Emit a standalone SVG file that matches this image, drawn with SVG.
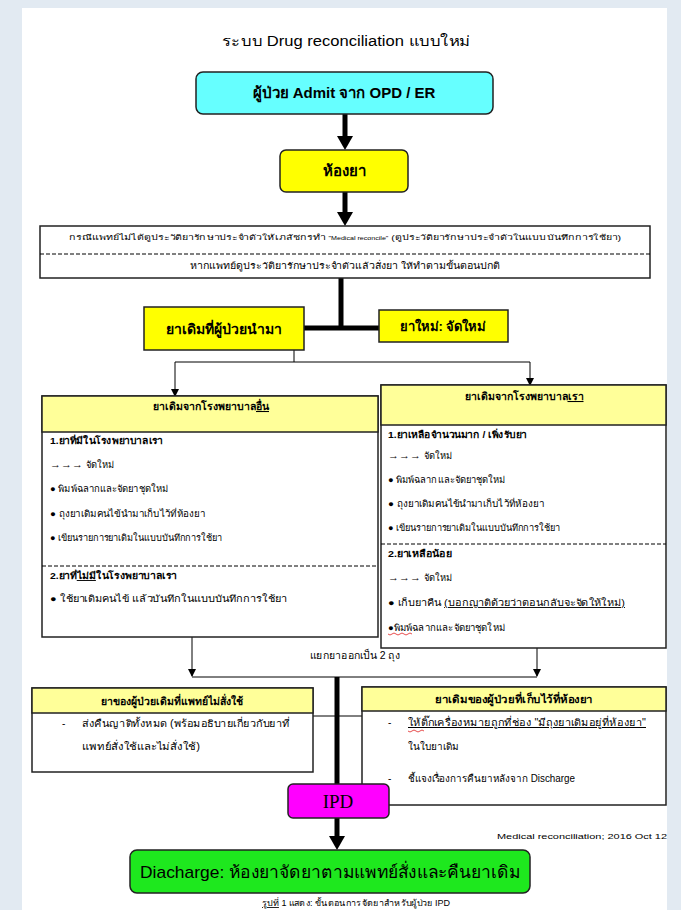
<svg xmlns="http://www.w3.org/2000/svg" width="681" height="910" viewBox="0 0 681 910">
<defs>
<style>
text{font-family:"Liberation Sans","DejaVu Sans",sans-serif;fill:#000}
.b{font-weight:bold}
.hd{font-size:15px;font-weight:bold;text-anchor:middle}
.sm{font-size:9.3px}
.md{font-size:10px}
.hh{font-size:10.5px;font-weight:bold;text-anchor:middle}
.ar{font-size:11px}
.c{text-anchor:middle}
.box{stroke:#222;stroke-width:1.5}
.thin{stroke:#000;stroke-width:1;fill:none}
.thick{stroke:#000;stroke-width:5;fill:none}
.dash{stroke:#000;stroke-width:1;stroke-dasharray:4 2;fill:none}
.u{text-decoration:underline}
.sq{stroke:#e02020;stroke-width:0.8;fill:none}
</style>
<marker id="ah" markerUnits="userSpaceOnUse" markerWidth="16" markerHeight="16" refX="4" refY="8" orient="auto"><path d="M0,0 L14,8 L0,16 z" fill="#000"/></marker>
<marker id="at" markerUnits="userSpaceOnUse" markerWidth="8" markerHeight="8" refX="7" refY="4" orient="auto"><path d="M0,0 L8,4 L0,8 z" fill="#000"/></marker>
</defs>
<rect x="0" y="0" width="681" height="910" fill="#e2eaf2"/>
<rect x="22" y="8" width="645" height="902" fill="#fff"/>

<text x="346" y="46" class="c" style="font-size:14px" textLength="248" lengthAdjust="spacingAndGlyphs">ระบบ Drug reconciliation แบบใหม่</text>

<g id="connectors">
<line x1="345" y1="114" x2="345" y2="140" class="thick" marker-end="url(#ah)"/>
<line x1="345" y1="192" x2="345" y2="216" class="thick" marker-end="url(#ah)"/>
<line x1="341" y1="278" x2="341" y2="330" class="thick"/>
<line x1="304" y1="328" x2="379" y2="328" class="thick"/>
<polyline points="294,350 294,362" class="thin"/>
<line x1="175" y1="362" x2="530" y2="362" class="thin"/>
<line x1="175" y1="362" x2="175" y2="396" class="thin" marker-end="url(#at)"/>
<line x1="530" y1="362" x2="530" y2="385" class="thin" marker-end="url(#at)"/>
<line x1="192" y1="637" x2="192" y2="676" class="thin" marker-end="url(#at)"/>
<line x1="537" y1="648" x2="537" y2="676" class="thin" marker-end="url(#at)"/>
<line x1="192" y1="677" x2="537" y2="677" class="thin"/>
<line x1="337" y1="677" x2="337" y2="784" class="thick"/>
<line x1="313" y1="716" x2="362" y2="716" class="thin"/>
<line x1="337" y1="818" x2="337" y2="840" class="thick" marker-end="url(#ah)"/>
<text x="355" y="659" class="c md" textLength="90" lengthAdjust="spacingAndGlyphs">แยกยาออกเป็น 2 ถุง</text>
</g>

<g id="admit">
<rect x="196" y="72" width="297" height="42" rx="7" fill="#66ffff" class="box"/>
<text x="344" y="98" class="hd">ผู้ป่วย Admit จาก OPD / ER</text>
</g>

<g id="pharmacy">
<rect x="280" y="150" width="128" height="42" rx="6" fill="#ffff00" class="box"/>
<text x="344" y="176" class="hd">ห้องยา</text>
</g>

<g id="reconcile">
<rect x="40" y="226" width="610" height="52" fill="#fff" class="box"/>
<line x1="40" y1="254" x2="650" y2="254" class="dash"/>
<text x="345" y="240" class="c" style="font-size:7.5px" textLength="552" lengthAdjust="spacingAndGlyphs">กรณีแพทย์ไม่ได้ดูประวัติยารักษาประจำตัวให้เภสัชกรทำ <tspan style="font-size:5px">"Medical reconcile"</tspan> (ดูประวัติยารักษาประจำตัวในแบบบันทึกการใช้ยา)</text>
<text x="345" y="269" class="c" style="font-size:9px" textLength="310" lengthAdjust="spacingAndGlyphs">หากแพทย์ดูประวัติยารักษาประจำตัวแล้วสั่งยา ให้ทำตามขั้นตอนปกติ</text>
</g>

<g id="old-drug">
<rect x="144" y="307" width="160" height="43" fill="#ffff00" class="box"/>
<text x="224" y="334" class="b c" style="font-size:14px">ยาเดิมที่ผู้ป่วยนำมา</text>
</g>

<g id="new-drug">
<rect x="379" y="310" width="129" height="32" fill="#ffff00" class="box"/>
<text x="443" y="331" class="b c" style="font-size:13px">ยาใหม่: จัดใหม่</text>
</g>

<g id="other-hospital">
<rect x="42" y="396" width="336" height="241" fill="#fff" class="box"/>
<rect x="42" y="396" width="336" height="36" fill="#ffff99" class="box"/>
<text x="211" y="410" class="hh">ยาเดิมจากโรงพยาบาล<tspan class="u">อื่น</tspan></text>
<text x="50" y="444" class="sm b" textLength="113" lengthAdjust="spacingAndGlyphs">1.ยาที่มีในโรงพยาบาลเรา</text>
<text x="50" y="468" class="sm"><tspan class="ar">→→→</tspan> จัดใหม่</text>
<text x="50" y="492" class="sm" textLength="118" lengthAdjust="spacingAndGlyphs">● พิมพ์ฉลากและจัดยาชุดใหม่</text>
<text x="50" y="517" class="sm" textLength="155" lengthAdjust="spacingAndGlyphs">● ถุงยาเดิมคนไข้นำมาเก็บไว้ที่ห้องยา</text>
<text x="50" y="541" class="sm" textLength="172" lengthAdjust="spacingAndGlyphs">● เขียนรายการยาเดิมในแบบบันทึกการใช้ยา</text>
<line x1="42" y1="566" x2="378" y2="566" class="dash"/>
<text x="50" y="579" class="sm b" textLength="127" lengthAdjust="spacingAndGlyphs">2.ยาที่<tspan class="u">ไม่มี</tspan>ในโรงพยาบาลเรา</text>
<text x="50" y="602" class="sm" textLength="237" lengthAdjust="spacingAndGlyphs">● ใช้ยาเดิมคนไข้ แล้วบันทึกในแบบบันทึกการใช้ยา</text>
</g>

<g id="our-hospital">
<rect x="381" y="385" width="285" height="263" fill="#fff" class="box"/>
<rect x="381" y="385" width="285" height="40" fill="#ffff99" class="box"/>
<text x="524" y="400" class="hh">ยาเดิมจากโรงพยาบาล<tspan class="u">เรา</tspan></text>
<text x="388" y="438" class="sm b" textLength="139" lengthAdjust="spacingAndGlyphs">1.ยาเหลือจำนวนมาก / เพิ่งรับยา</text>
<text x="388" y="459" class="sm"><tspan class="ar">→→→</tspan> จัดใหม่</text>
<text x="388" y="483" class="sm" textLength="117" lengthAdjust="spacingAndGlyphs">● พิมพ์ฉลากและจัดยาชุดใหม่</text>
<text x="388" y="507" class="sm" textLength="156" lengthAdjust="spacingAndGlyphs">● ถุงยาเดิมคนไข้นำมาเก็บไว้ที่ห้องยา</text>
<text x="388" y="531" class="sm" textLength="172" lengthAdjust="spacingAndGlyphs">● เขียนรายการยาเดิมในแบบบันทึกการใช้ยา</text>
<line x1="381" y1="544" x2="666" y2="544" class="dash"/>
<text x="388" y="557" class="sm b" textLength="64" lengthAdjust="spacingAndGlyphs">2.ยาเหลือน้อย</text>
<text x="388" y="581" class="sm"><tspan class="ar">→→→</tspan> จัดใหม่</text>
<text x="388" y="606" class="sm" textLength="237" lengthAdjust="spacingAndGlyphs">● เก็บยาคืน <tspan class="u">(บอกญาติด้วยว่าตอนกลับจะจัดให้ใหม่)</tspan></text>
<text x="388" y="631" class="sm" textLength="117" lengthAdjust="spacingAndGlyphs">●พิมพ์ฉลากและจัดยาชุดใหม่</text>
<path d="M388,634 q2,2 4,0 t4,0 t4,0 t4,0 t4,0 t4,0" class="sq"/>
</g>

<g id="not-ordered">
<rect x="32" y="688" width="281" height="84" fill="#fff" class="box"/>
<rect x="32" y="688" width="281" height="25" fill="#ffff99" class="box"/>
<text x="172" y="705" class="hh">ยาของผู้ป่วยเดิมที่แพทย์ไม่สั่งใช้</text>
<text x="62" y="727" class="md">-</text>
<text x="82" y="727" class="md" textLength="208" lengthAdjust="spacingAndGlyphs">ส่งคืนญาติทั้งหมด (พร้อมอธิบายเกี่ยวกับยาที่</text>
<text x="82" y="750" class="md" textLength="118" lengthAdjust="spacingAndGlyphs">แพทย์สั่งใช้และไม่สั่งใช้)</text>
</g>

<g id="kept">
<rect x="362" y="687" width="304" height="118" fill="#fff" class="box"/>
<rect x="362" y="687" width="304" height="24" fill="#ffff99" class="box"/>
<text x="514" y="703" class="hh" textLength="158" lengthAdjust="spacingAndGlyphs">ยาเดิมของผู้ป่วยที่เก็บไว้ที่ห้องยา</text>
<text x="388" y="726" class="md">-</text>
<text x="408" y="726" class="md u" textLength="238" lengthAdjust="spacingAndGlyphs">ให้ติ๊กเครื่องหมายถูกที่ช่อง "มีถุงยาเดิมอยู่ที่ห้องยา"</text>
<path d="M408,731 q2,2 4,0 t4,0 t4,0 t4,0" class="sq"/>
<text x="408" y="750" class="md">ในใบยาเดิม</text>
<text x="388" y="782" class="md">-</text>
<text x="408" y="782" class="md" textLength="167" lengthAdjust="spacingAndGlyphs">ชี้แจงเรื่องการคืนยาหลังจาก Discharge</text>
</g>

<g id="ipd">
<rect x="288" y="784" width="101" height="34" rx="5" fill="#ff00ff" class="box"/>
<text x="338" y="808" class="c" style="font-family:'Liberation Serif',serif;font-size:19px">IPD</text>
</g>

<text x="497" y="839" style="font-size:8px" textLength="170" lengthAdjust="spacingAndGlyphs">Medical reconciliation; 2016 Oct 12</text>

<g id="discharge">
<rect x="130" y="850" width="400" height="43" rx="7" fill="#1ee81e" class="box"/>
<text x="330" y="878" class="c" style="font-size:17px" textLength="380" lengthAdjust="spacingAndGlyphs">Diacharge: ห้องยาจัดยาตามแพทย์สั่งและคืนยาเดิม</text>
</g>

<text x="356" y="906" class="c" style="font-size:8.5px" textLength="188" lengthAdjust="spacingAndGlyphs"><tspan class="u">รูปที่</tspan> 1 แสดง: ขั้นตอนการจัดยาสำหรับผู้ป่วย IPD</text>
</svg>
